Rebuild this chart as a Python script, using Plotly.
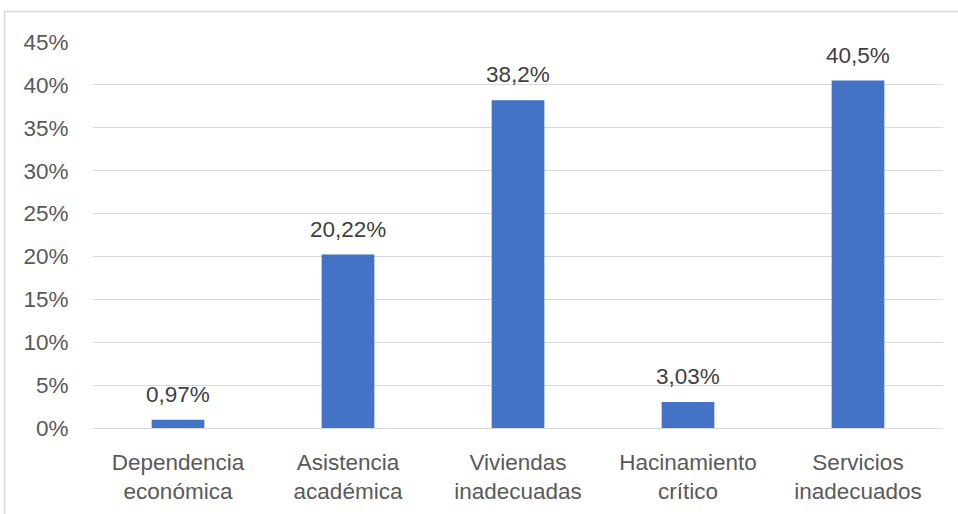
import plotly.graph_objects as go

categories = ["Dependencia<br>económica", "Asistencia<br>académica", "Viviendas<br>inadecuadas",
              "Hacinamiento<br>crítico", "Servicios<br>inadecuados"]
values = [0.97, 20.22, 38.2, 3.03, 40.5]
value_labels = ["0,97%", "20,22%", "38,2%", "3,03%", "40,5%"]
y_ticks = [0, 5, 10, 15, 20, 25, 30, 35, 40, 45]
y_tick_labels = [f"{t}%" for t in y_ticks]

FONT = "Liberation Sans Narrow, Arial Narrow, Liberation Sans, Arial, sans-serif"
FS = 22.5

fig = go.Figure(go.Bar(
    x=categories, y=values,
    marker=dict(color="#4472c4", line=dict(width=0)),
    width=0.31,
    hoverinfo="skip",
))

# value labels above each bar
for c, v, t in zip(categories, values, value_labels):
    fig.add_annotation(x=c, y=v, text=t, showarrow=False, yanchor="bottom",
                       yshift=11, font=dict(family=FONT, size=FS, color="#404040"))

# outer frame of the chart area
W, H = 958, 514
L, R, T, B = 93, 15, 42, 86
pw, ph = W - L - R, H - T - B
def px_x(p):
    return (p - L) / pw
def px_y(p):
    return (H - B - p) / ph
fig.add_shape(type="rect", xref="paper", yref="paper",
              x0=px_x(4.5), x1=px_x(980), y0=px_y(11.5), y1=px_y(540),
              line=dict(color="#d9d9d9", width=1.5), fillcolor="rgba(0,0,0,0)", layer="below")

fig.update_layout(
    width=W, height=H,
    margin=dict(l=L, r=R, t=T, b=B, pad=0, autoexpand=False),
    paper_bgcolor="white", plot_bgcolor="white",
    showlegend=False,
    bargap=0.69,
    font=dict(family=FONT, size=FS, color="#595959"),
    xaxis=dict(showgrid=False, showline=False, zeroline=False, automargin=False,
               ticks="outside", ticklen=14, tickcolor="rgba(0,0,0,0)",
               tickfont=dict(family=FONT, size=FS, color="#595959")),
    yaxis=dict(range=[0, 45], tickvals=y_ticks, ticktext=y_tick_labels, automargin=False,
               showgrid=True, gridcolor="#d9d9d9", gridwidth=1.3,
               zeroline=True, zerolinecolor="#d9d9d9", zerolinewidth=1.3,
               showline=False, ticks="outside", ticklen=19, tickcolor="rgba(0,0,0,0)",
               tickfont=dict(family=FONT, size=FS, color="#595959")),
)

fig.write_html("out.html")
